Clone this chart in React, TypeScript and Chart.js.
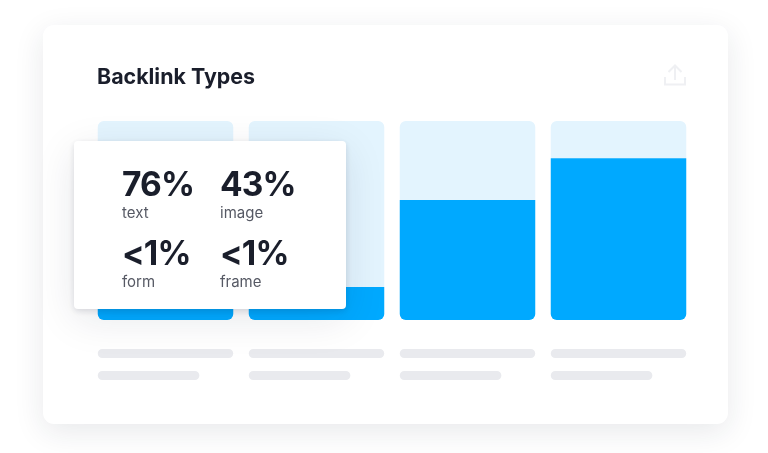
import React, { useEffect, useRef } from "react";
import { Chart, registerables } from "chart.js";

Chart.register(...registerables);

const categories = ["Text", "Image", "Form", "Frame"];
const filled = [30, 16.6, 60.3, 81.3];
const remainder = [70, 83.4, 39.7, 18.7];
const popupValues = ["76%", "43%", "<1%", "<1%"];
const popupLabels = ["text", "image", "form", "frame"];
const title = "Backlink Types";

const font = "Inter, 'Noto Sans', sans-serif";

const skeletonPlugin = {
  id: "skeleton",
  afterDatasetsDraw(chart: any) {
    const ctx = chart.ctx;
    const meta = chart.getDatasetMeta(0);
    meta.data.forEach((bar: any) => {
      const left = bar.x - bar.width / 2;
      ctx.save();
      ctx.fillStyle = "#e9eaee";
      ctx.beginPath();
      ctx.roundRect(left, 349, bar.width, 9, 4.5);
      ctx.roundRect(left, 371, bar.width * 0.75, 9, 4.5);
      ctx.fill();
      ctx.restore();
    });
  },
};

export default function App() {
  const ref = useRef<HTMLCanvasElement>(null);

  useEffect(() => {
    const chart = new Chart(ref.current!, {
      type: "bar",
      data: {
        labels: categories,
        datasets: [
          {
            data: filled,
            backgroundColor: "#00a9ff",
            borderRadius: { topLeft: 0, topRight: 0, bottomLeft: 6, bottomRight: 6 },
            borderSkipped: false,
          },
          {
            data: remainder,
            backgroundColor: "#e3f4fe",
            borderRadius: { topLeft: 6, topRight: 6, bottomLeft: 0, bottomRight: 0 },
            borderSkipped: false,
          },
        ],
      },
      options: {
        responsive: false,
        animation: false,
        layout: { padding: { left: 90, right: 74, top: 121, bottom: 133 } },
        datasets: { bar: { barPercentage: 1, categoryPercentage: 135.5 / 151 } },
        plugins: { legend: { display: false }, tooltip: { enabled: false }, title: { display: false } },
        scales: {
          x: { stacked: true, display: false },
          y: { stacked: true, display: false, min: 0, max: 100 },
        },
      },
      plugins: [skeletonPlugin],
    });
    return () => chart.destroy();
  }, []);

  const cols = [122, 220];
  const rows = [197, 266];

  return (
    <div style={{ position: "fixed", inset: 0, background: "#fff", overflow: "hidden", fontFamily: font }}>
      <div
        style={{
          position: "absolute",
          left: 43,
          top: 25,
          width: 685,
          height: 399,
          borderRadius: 11,
          background: "#fff",
          boxShadow: "0 8px 30px rgba(30,35,60,0.10)",
        }}
      />
      <canvas ref={ref} width={768} height={453} style={{ position: "absolute", left: 0, top: 0, display: "block" }} />
      <div
        style={{
          position: "absolute",
          left: 97,
          top: 62,
          fontSize: 21.4,
          lineHeight: "28px",
          fontWeight: 700,
          color: "#1a1e2b",
          whiteSpace: "nowrap",
        }}
      >
        {title}
      </div>
      <svg
        width={26}
        height={26}
        viewBox="0 0 26 26"
        style={{ position: "absolute", left: 662, top: 62 }}
        fill="none"
        stroke="#eff0f3"
        strokeWidth={2}
      >
        <path d="M3 15 V22.5 H23 V15" />
        <path d="M13 18 V4 M6.5 10 L13 3.5 L19.5 10" />
      </svg>
      <div
        style={{
          position: "absolute",
          left: 73.5,
          top: 141,
          width: 272,
          height: 168,
          borderRadius: 4,
          background: "#fff",
          boxShadow: "0 2px 6px rgba(20,30,60,0.14), 0 10px 40px rgba(20,30,60,0.10)",
        }}
      />
      {popupValues.map((v, i) => (
        <React.Fragment key={i}>
          <div
            style={{
              position: "absolute",
              left: cols[i % 2],
              top: rows[i < 2 ? 0 : 1] - 35,
              fontSize: 33.5,
              lineHeight: "44px",
              fontWeight: 700,
              letterSpacing: "-0.9px",
              color: "#1a1e2b",
              whiteSpace: "nowrap",
            }}
          >
            {v}
          </div>
          <div
            style={{
              position: "absolute",
              left: cols[i % 2],
              top: rows[i < 2 ? 0 : 1] + 5.5,
              fontSize: 15,
              lineHeight: "20px",
              color: "#565964",
              whiteSpace: "nowrap",
            }}
          >
            {popupLabels[i]}
          </div>
        </React.Fragment>
      ))}
    </div>
  );
}
